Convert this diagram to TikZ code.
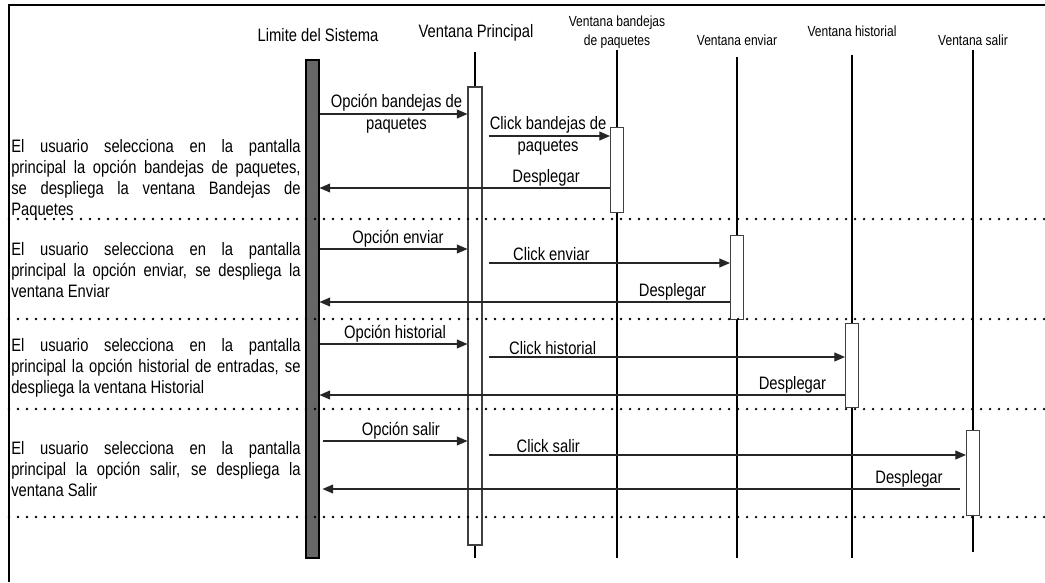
\documentclass[tikz,border=0pt]{standalone}
\usepackage{fontspec}
\setmainfont{Liberation Sans}[FakeStretch=0.82]
\usetikzlibrary{arrows.meta,backgrounds}

\begin{document}
\begin{tikzpicture}[
    x=0.75pt, y=-0.75pt,
    lifeline/.style={draw=black, line width=0.8pt},
    sysbar/.style={rectangle, draw=black, fill=black!60, line width=0.8pt, minimum width=9.75pt, inner sep=0pt},
    actbox/.style={rectangle, draw=black!75, fill=white, line width=0.8pt, minimum width=9.75pt, minimum height=63.5pt, inner sep=0pt},
    header/.style={font=\fontsize{13.5pt}{16pt}\selectfont, align=center},
    smallheader/.style={font=\fontsize{11pt}{14.25pt}\selectfont, align=center},
    msg/.style={font=\fontsize{13.5pt}{16.5pt}\selectfont, inner sep=1pt, align=center},
    desc/.style={font=\fontsize{13.5pt}{15.75pt}\selectfont, text width=217pt, align=justify, anchor=north west, inner sep=0pt},
    separator/.style={line width=1.9pt, line cap=round, dash pattern=on 0pt off 6.75pt},
    arrow/.style={line width=0.8pt, draw=black!85, -{Triangle[length=8pt, width=6.75pt]}}
]
\useasboundingbox (0,0) rectangle (1045,582);

% Frame
\draw[line width=0.8pt] (1045,5) -- (9,5) -- (9,582);

% Headers
\node[header] (hsys) at (318,35) {Limite del Sistema};
\node[header] (hprin) at (476,33) {Ventana Principal};
\node[smallheader] (hband) at (617,32) {Ventana bandejas\\de paquetes};
\node[smallheader] (henv) at (737,40) {Ventana enviar};
\node[smallheader] (hhis) at (852,31) {Ventana historial};
\node[smallheader] (hsal) at (973,40) {Ventana salir};

% Bar and activation boxes
\node[sysbar, minimum height=373.5pt] (sys) at (312.5,309) {};
\node[actbox, minimum height=343.5pt, minimum width=10.5pt] (prin) at (475,316) {};
\node[actbox] (band) at (617,170) {};
\node[actbox] (env) at (737,277.5) {};
\node[actbox] (his) at (852,365.5) {};
\node[actbox] (sal) at (973,473) {};

% Lifelines
\begin{scope}[on background layer]
\draw[lifeline] (475,52) -- (475,558);
\draw[lifeline] (617,50) -- (617,558);
\draw[lifeline] (737,57) -- (737,558);
\draw[lifeline] (852,55) -- (852,558);
\draw[lifeline] (973,50) -- (973,552);
\end{scope}

% Separators
\draw[separator] (9,219) -- (1045,219);
\draw[separator] (9,319) -- (1045,319);
\draw[separator] (9,409) -- (1045,409);
\draw[separator] (9,517) -- (1045,517);

% Descriptions
\node[desc] (d1) at (11,139.5) {El usuario selecciona en la pantalla\linebreak principal la opción bandejas de paquetes,\linebreak se despliega la ventana Bandejas de\linebreak Paquetes};
\node[desc] (d2) at (11,242.5) {El usuario selecciona en la pantalla\linebreak principal la opción enviar, se despliega la\linebreak ventana Enviar};
\node[desc] (d3) at (11,338.5) {El usuario selecciona en la pantalla\linebreak principal la opción historial de entradas, se\linebreak despliega la ventana Historial};
\node[desc] (d4) at (11,441.5) {El usuario selecciona en la pantalla\linebreak principal la opción salir, se despliega la\linebreak ventana Salir};

% Message levels
\coordinate (m1) at (0,114);
\coordinate (m2) at (0,136);
\coordinate (m3) at (0,188);
\coordinate (m4) at (0,249);
\coordinate (m5) at (0,263);
\coordinate (m6) at (0,302);
\coordinate (m7) at (0,344);
\coordinate (m8) at (0,357);
\coordinate (m9) at (0,395);
\coordinate (m10) at (0,441);
\coordinate (m11) at (0,455);
\coordinate (m12) at (0,489);

% Messages
\draw[arrow] (sys.east |- m1) -- node[msg, pos=0.52] {Opción bandejas de\\paquetes} (prin.west |- m1);
\draw[arrow] ([xshift=4.5pt]prin.east |- m2) -- node[msg, pos=0.49] {Click bandejas de\\paquetes} (band.west |- m2);
\draw[arrow] (band.west |- m3) -- node[msg, above, pos=0.22] {Desplegar} (sys.east |- m3);

\draw[arrow] (sys.east |- m4) -- node[msg, above, pos=0.53] {Opción enviar} (prin.west |- m4);
\draw[arrow] ([xshift=4.5pt]prin.east |- m5) -- node[msg, above, pos=0.26] {Click enviar} (env.west |- m5);
\draw[arrow] (env.west |- m6) -- node[msg, above, pos=0.14] {Desplegar} (sys.east |- m6);

\draw[arrow] (sys.east |- m7) -- node[msg, above, pos=0.51] {Opción historial} (prin.west |- m7);
\draw[arrow] ([xshift=4.5pt]prin.east |- m8) -- node[msg, above, pos=0.18] {Click historial} (his.west |- m8);
\draw[arrow] (his.west |- m9) -- node[msg, above, pos=0.10] {Desplegar} (sys.east |- m9);

\draw[arrow] ([xshift=2.25pt]sys.east |- m10) -- node[msg, above, pos=0.54] {Opción salir} (prin.west |- m10);
\draw[arrow] ([xshift=4.5pt]prin.east |- m11) -- node[msg, above, pos=0.125] {Click salir} (sal.west |- m11);
\draw[arrow] ([xshift=-4.5pt]sal.west |- m12) -- node[msg, above, pos=0.08] {Desplegar} ([xshift=2.25pt]sys.east |- m12);

\end{tikzpicture}
\end{document}
